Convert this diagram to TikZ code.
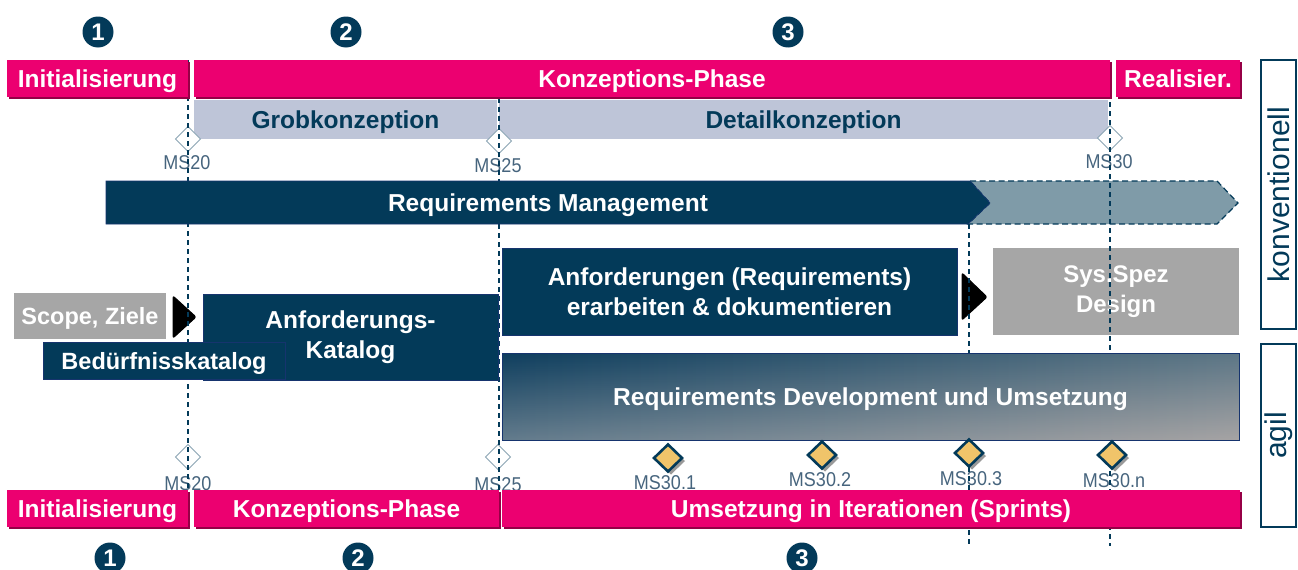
\documentclass[tikz,border=0pt]{standalone}
\usepackage{fontspec}
\setmainfont{Liberation Sans}
\newfontfamily\msfont[FakeStretch=0.9]{Liberation Sans}
\usetikzlibrary{shapes.geometric,shadows,fadings}

\definecolor{tpink}{RGB}{236,0,112}
\definecolor{tpinkdark}{RGB}{150,0,70}
\definecolor{navy}{RGB}{3,58,89}
\definecolor{navyedge}{RGB}{22,52,110}
\definecolor{lav}{RGB}{190,197,216}
\definecolor{boxgray}{RGB}{166,166,166}
\definecolor{rmgray}{RGB}{127,155,168}
\definecolor{gold}{RGB}{240,196,106}
\definecolor{mstext}{RGB}{70,100,125}
\definecolor{msedge}{RGB}{140,165,180}
\definecolor{rdtop}{RGB}{14,62,94}
\definecolor{rdmid}{RGB}{92,118,134}
\definecolor{rdlightL}{RGB}{185,186,188}
\definecolor{rdlightR}{RGB}{240,210,195}

\tikzfading[name=fadeup,top color=transparent!100,bottom color=transparent!0]

\begin{document}
\begin{tikzpicture}[x=1pt,y=-1pt,
  every node/.style={inner sep=0pt,outer sep=0pt},
  bigtext/.style={font=\fontsize{24.5}{30}\selectfont\bfseries},
  oneline/.style={text height=17.5pt,text depth=0pt},
  pinkbar/.style={bigtext,oneline,fill=tpink,text=white,minimum height=37pt,
    drop shadow={shadow xshift=1.5pt,shadow yshift=-1.5pt,fill=tpinkdark,opacity=1}},
  lavbar/.style={bigtext,oneline,fill=lav,text=navy,minimum height=39pt},
  darkbox/.style={bigtext,fill=navy,draw=navyedge,line width=0.6pt,text=white,align=center},
  graybox/.style={bigtext,fill=boxgray,text=white,align=center},
  sidebox/.style={draw=navy,line width=1.4pt,fill=white,text=navy,
    font=\fontsize{30}{34}\selectfont,rotate=90,minimum height=35pt},
  numcirc/.style={circle,fill=navy,text=white,minimum size=31pt,
    font=\fontsize{24}{24}\selectfont\bfseries},
  msopen/.style={diamond,draw=msedge,fill=white,line width=0.9pt,
    minimum width=25pt,minimum height=25pt},
  msgold/.style={diamond,draw=navy,fill=gold,line width=2.6pt,
    minimum width=28pt,minimum height=27pt,
    drop shadow={shadow xshift=3pt,shadow yshift=-3pt,fill=black!40,opacity=1}},
  mslabel/.style={text=mstext,font=\msfont\fontsize{20}{20}\selectfont},
  msline/.style={draw=navy,line width=1.3pt,dash pattern=on 5pt off 4pt},
  arrowhead/.style={fill=black,draw=black,line width=1pt,rounded corners=2pt}
]
\useasboundingbox (0,0) rectangle (1298,570);

% phase numbers
\node[numcirc] (n1t) at (98,32) {1};
\node[numcirc] (n2t) at (346,32) {2};
\node[numcirc] (n3t) at (788,32) {3};
\node[numcirc] (n1b) at (110,558) {1};
\node[numcirc] (n2b) at (358,558) {2};
\node[numcirc] (n3b) at (802,558) {3};

% sub-phases of the conventional plan
\node[lavbar,minimum width=303pt] (grob) at (345.5,119.5) {Grobkonzeption};
\node[lavbar,minimum width=609pt] (detail) at (803.5,119.5) {Detailkonzeption};

% milestone labels
\node[mslabel] (l20t) at (187,163) {MS20};
\node[mslabel] (l25t) at (498,166) {MS25};
\node[mslabel] (l30t) at (1109,162) {MS30};
\node[mslabel] (l20b) at (188,484) {MS20};
\node[mslabel] (l25b) at (498,485) {MS25};
\node[mslabel] (l301) at (665,483) {MS30.1};
\node[mslabel] (l302) at (820,480) {MS30.2};
\node[mslabel] (l303) at (971,479) {MS30.3};
\node[mslabel] (l30n) at (1114,481) {MS30.n};

% open milestones
\node[msopen] (m20t) at (188,139) {};
\node[msopen] (m25t) at (499,141) {};
\node[msopen] (m30t) at (1110,138) {};
\node[msopen] (m20b) at (188,457) {};
\node[msopen] (m25b) at (498,457) {};

% requirements management: continuation part
\filldraw[fill=rmgray,draw=navy,line width=1.2pt,dash pattern=on 6pt off 3.5pt]
  (970,181) -- (1217,181) -- (1238,203) -- (1217,224) -- (968,224) -- (990,203) -- cycle;

% flow arrow heads
\filldraw[arrowhead] (173,296) -- (196,317) -- (173,338) -- cycle;
\filldraw[arrowhead] (962,273) -- (987,297) -- (962,320) -- cycle;

% system specification and scope
\node[graybox,minimum width=246pt,minimum height=87pt,font=\fontsize{24}{30}\selectfont\bfseries]
  (sysspez) at (1116,291.5) {Sys.Spez\\Design};
\node[graybox,oneline,text height=17pt,minimum width=152pt,minimum height=46pt,
  font=\fontsize{23.5}{28}\selectfont\bfseries] (scope) at (90,316) {Scope, Ziele};

% milestone lines
\coordinate (a20) at (188,60);   \coordinate (b20) at (188,527);
\coordinate (a25) at (499,98);   \coordinate (b25) at (499,490);
\coordinate (a303) at (969,224); \coordinate (b303) at (969,546);
\coordinate (a30) at (1110,93);  \coordinate (b30) at (1110,546);
\draw[msline] (a20) -- (b20);
\draw[msline] (a25) -- (b25);
\draw[msline] (a303) -- (b303);
\draw[msline] (a30) -- (b30);

% phase bars
\node[pinkbar,minimum width=181pt] (initT) at (97.5,78.5) {Initialisierung};
\node[pinkbar,minimum width=916pt] (konzT) at (652,78.5) {Konzeptions-Phase};
\node[pinkbar,minimum width=124pt] (realT) at (1178,78.5) {Realisier.};
\node[pinkbar,minimum width=181pt] (initB) at (97.5,508.5) {Initialisierung};
\node[pinkbar,minimum width=305pt] (konzB) at (346.5,508.5) {Konzeptions-Phase};
\node[pinkbar,minimum width=738pt] (umsB) at (871,508.5) {Umsetzung in Iterationen (Sprints)};

% requirements management
\filldraw[fill=navy,draw=navyedge,line width=0.6pt]
  (106,181) -- (970,181) -- (990,203) -- (968,224) -- (106,224) -- cycle;
\node[bigtext,oneline,text=white] (rm) at (548,202.5) {Requirements Management};

% work products
\node[darkbox,minimum width=295pt,minimum height=86pt] (anfkat) at (350.5,337) {Anforderungs-\\Katalog};
\node[darkbox,oneline,text height=17pt,minimum width=242pt,minimum height=37pt,
  font=\fontsize{23.5}{28}\selectfont\bfseries] (bed) at (164,360.5) {Bedürfnisskatalog};
\node[darkbox,minimum width=455pt,minimum height=87pt] (anf) at (729.5,292)
  {Anforderungen (Requirements)\\erarbeiten \& dokumentieren};

% agile development block with diagonal colour blend
\shade[left color=rdtop,right color=rdmid] (502,353) rectangle (1239,440);
\shade[left color=rdlightL,right color=rdlightR,path fading=fadeup,opacity=0.5]
  (502,353) rectangle (1239,440);
\draw[navyedge,line width=1pt] (502,353) rectangle (1239,440);
\node[bigtext,oneline,text=white] (rd) at (870.5,396.5) {Requirements Development und Umsetzung};

% sprint milestones
\node[msgold] (m301) at (668,458) {};
\node[msgold] (m302) at (822,455) {};
\node[msgold] (m303) at (969,453) {};
\node[msgold] (m30n) at (1112,455) {};

% approach labels
\node[sidebox,minimum width=269pt] (konv) at (1278.5,194.5) {konventionell};
\node[sidebox,minimum width=183pt] (agil) at (1278.5,435.5) {agil};
\end{tikzpicture}
\end{document}
